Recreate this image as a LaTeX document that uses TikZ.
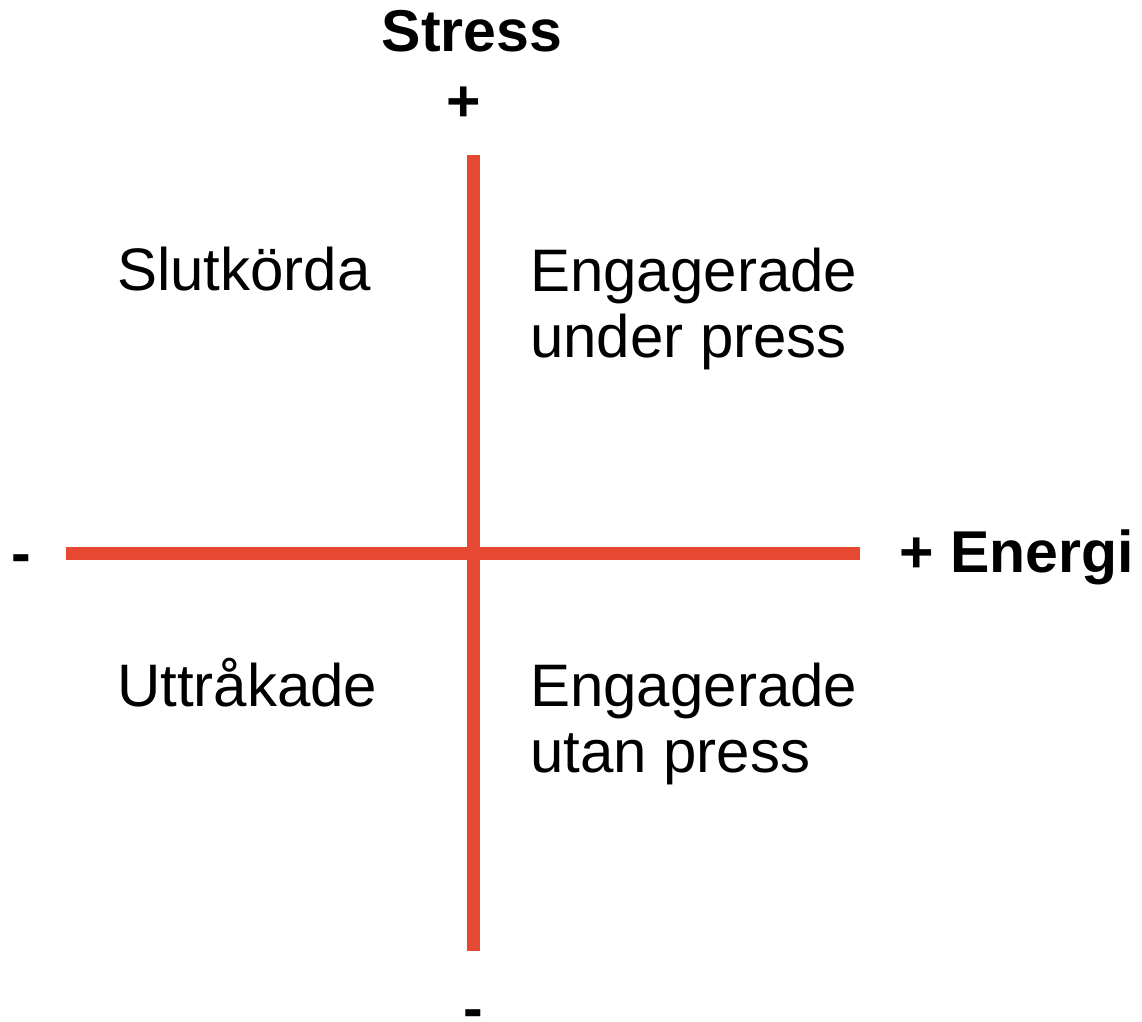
\documentclass[tikz,border=0pt]{standalone}
\usepackage{fontspec}
\setmainfont{Liberation Sans}
\definecolor{axisred}{RGB}{231,72,50}
\begin{document}
\begin{tikzpicture}[x=1pt,y=-1pt,
  axisline/.style={draw=axisred,line width=13pt,line cap=butt},
  lbl/.style={inner sep=0pt,anchor=base west,font=\fontsize{60}{66}\selectfont},
  blbl/.style={inner sep=0pt,font=\fontsize{59}{66}\selectfont\bfseries}]
\useasboundingbox[fill=white] (0,0) rectangle (1142,1021);
% axis end points
\coordinate (vtop) at (473.5,155);
\coordinate (vbot) at (473.5,951);
\coordinate (hleft) at (66,553);
\coordinate (hright) at (860,553);
\draw[axisline] (vtop) -- (vbot);
\draw[axisline] (hleft) -- (hright);
% axis labels
\node[blbl,anchor=base] (stress) at (472,51) {Stress};
\node[blbl,anchor=base] (splus) at (464,121) {+};
\node[blbl,anchor=base west] (energi) at (899,572) {+ Energi};
\node[blbl,anchor=base west] (eminus) at (11,573) {-};
\node[blbl,anchor=base] (sminus) at (473.5,1019) {\raisebox{-9pt}[\height][0pt]{-}};
% quadrant labels
\node[lbl] (q1) at (117,290) {Slutkörda};
\node[lbl] (q2a) at (530,291) {Engagerade};
\node[lbl] (q2b) at (530,357) {under press};
\node[lbl] (q3) at (117,706) {Uttråkade};
\node[lbl] (q4a) at (530,706) {Engagerade};
\node[lbl] (q4b) at (530,772) {utan press};
\end{tikzpicture}
\end{document}
